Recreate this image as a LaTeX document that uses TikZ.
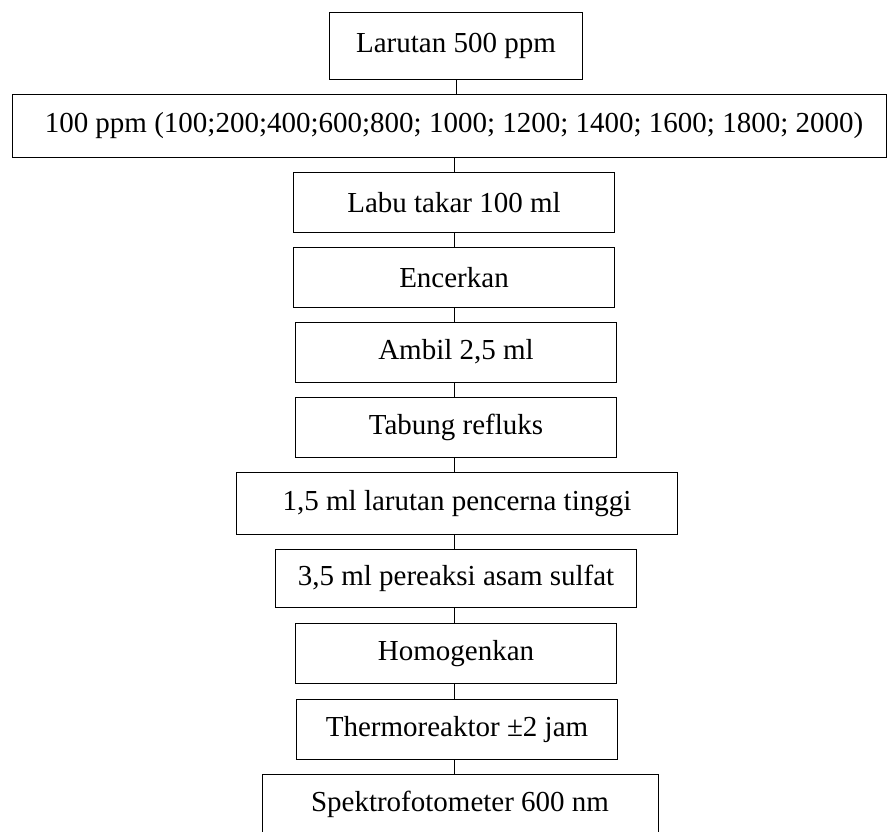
\documentclass[tikz,border=0pt]{standalone}
\usepackage{fontspec}
\setmainfont{Liberation Serif}
\usetikzlibrary{positioning}

\begin{document}
\begin{tikzpicture}[x=1pt,y=1pt,node distance=15pt,font=\fontsize{29}{34}\selectfont,box/.style={draw,rectangle,line width=0.9pt,inner sep=0pt,outer sep=0pt,minimum height=60pt,minimum width=321pt}, link/.style={line width=0.9pt}]
        \useasboundingbox (0,0) rectangle (887,-832);
        
        \node[box,minimum width=253pt,minimum height=67pt] (larutan) at (456,-45.6) {Larutan 500 ppm};
        \node[box,minimum width=874pt,minimum height=63pt] (ppm) [below = of larutan, xshift=-7pt] {\hspace{10pt}100 ppm (100;200;400;600;800; 1000; 1200; 1400; 1600; 1800; 2000)};
        \node[box] (labu) [below = of ppm, xshift=5pt] {Labu takar 100 ml};
        \node[box] (encer) [below = of labu] {Encerkan};
        \node[box] (ambil) [below = of encer, xshift=2pt] {Ambil 2,5 ml};
        \node[box] (tabung) [below = of ambil] {Tabung refluks};
        \node[box,minimum width=441pt,minimum height=62.5pt] (cerna) [below = of tabung, xshift=1pt] {1,5 ml larutan pencerna tinggi};
        \node[box,minimum width=361pt,minimum height=57.5pt] (asam) [below = of cerna, xshift=-1pt] {3,5 ml pereaksi asam sulfat};
        \node[box] (homogen) [below = 16pt of asam] {Homogenkan};
        \node[box] (thermo) [below = 16pt of homogen, xshift=1pt] {Thermoreaktor ±2 jam};
        \node[box,minimum width=396pt] (spektro) [below = 15.5pt of thermo, xshift=3pt] {Spektrofotometer 600 nm};
        
        \path (larutan.south) edge[link] (larutan.south |- ppm.north);
        \path (ppm.south -| labu.south) edge[link] (labu.north);
        \path (labu.south) edge[link] (encer.north);
        \path (encer.south) edge[link] (encer.south |- ambil.north);
        \path (ambil.south -| encer.south) edge[link] (encer.south |- tabung.north);
        \path (tabung.south -| encer.south) edge[link] (encer.south |- cerna.north);
        \path (cerna.south -| encer.south) edge[link] (encer.south |- asam.north);
        \path (asam.south -| encer.south) edge[link] (encer.south |- homogen.north);
        \path (homogen.south -| encer.south) edge[link] (encer.south |- thermo.north);
        \path (thermo.south -| encer.south) edge[link] (encer.south |- spektro.north);
    \end{tikzpicture}
\end{document}
